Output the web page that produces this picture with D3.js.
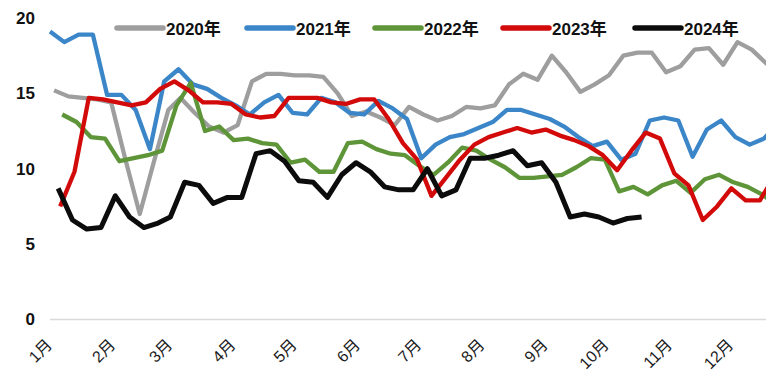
<!DOCTYPE html>
<html>
<head>
<meta charset="utf-8">
<script src="https://cdn.jsdelivr.net/npm/d3@7/dist/d3.min.js"></script>
<style>
  html, body { margin: 0; padding: 0; background: #fff; }
  svg { display: block; }
</style>
</head>
<body>
<svg id="chart" width="766" height="373"></svg>
<script>
// Weekly readings (Friday observations) for each year
const monthLabels = ["1月","2月","3月","4月","5月","6月","7月","8月","9月","10月","11月","12月"];
const yTicks = [0, 5, 10, 15, 20];
const seriesNames = ["2020年", "2021年", "2022年", "2023年", "2024年"];
const seriesStarts = ["2020-01-03", "2021-01-01", "2022-01-07", "2023-01-06", "2024-01-05"];

const values2020 = [15.2,14.8,14.7,14.6,14.4,10.6,7.0,10.5,13.9,14.7,13.7,12.8,12.4,12.9,15.8,16.3,16.3,16.2,16.2,16.1,15.0,13.5,13.8,13.4,12.9,14.1,13.6,13.2,13.5,14.1,14.0,14.2,15.6,16.3,15.9,17.5,16.4,15.1,15.6,16.2,17.5,17.7,17.7,16.4,16.8,17.9,18.0,16.9,18.4,17.9,17.0,16.5];
const values2021 = [19.1,18.4,18.9,18.9,14.9,14.9,13.9,11.3,15.8,16.6,15.6,15.3,14.7,14.2,13.6,14.4,14.9,13.7,13.6,14.7,14.4,13.7,13.6,14.5,14.0,13.3,10.7,11.6,12.1,12.3,12.7,13.1,13.9,13.9,13.6,13.3,12.8,12.1,11.5,11.8,10.6,11.0,13.2,13.4,13.2,10.8,12.6,13.2,12.1,11.6,12.0,13.0];
const values2022 = [13.6,13.1,12.1,12.0,10.5,10.7,10.9,11.2,14.2,15.7,12.5,12.8,11.9,12.0,11.7,11.6,10.4,10.6,9.8,9.8,11.7,11.8,11.3,11.0,10.9,10.2,9.6,10.4,11.4,11.2,10.6,10.1,9.4,9.4,9.5,9.6,10.1,10.7,10.6,8.5,8.8,8.3,8.9,9.2,8.4,9.3,9.6,9.1,8.8,8.3,7.6];
const values2023 = [7.5,9.8,14.7,14.6,14.4,14.2,14.4,15.3,15.8,15.2,14.4,14.4,14.3,13.6,13.4,13.5,14.7,14.7,14.7,14.4,14.3,14.6,14.6,13.3,11.7,10.6,8.2,9.4,10.6,11.6,12.1,12.4,12.7,12.4,12.6,12.2,11.9,11.5,10.9,9.9,11.2,12.4,12.0,9.7,8.9,6.6,7.5,8.7,7.9,7.9,9.5];
const values2024 = [8.7,6.6,6.0,6.1,8.2,6.8,6.1,6.4,6.8,9.1,8.9,7.7,8.1,8.1,11.0,11.2,10.5,9.2,9.1,8.1,9.6,10.4,9.8,8.8,8.6,8.6,10.0,8.2,8.6,10.7,10.7,10.9,11.2,10.2,10.4,9.1,6.8,7.0,6.8,6.4,6.7,6.8];

const seriesValues = [values2020, values2021, values2022, values2023, values2024];
const seriesColors = ["#9e9e9e", "#3b86c8", "#5e9538", "#d20a0a", "#0c0c0c"];
const seriesWidths = [4.3, 4.3, 4.3, 4.3, 5];

const W = 766, H = 373;
const svg = d3.select("#chart");
svg.append("rect").attr("width", W).attr("height", H).attr("fill", "#fff");

// Every year is laid onto one calendar year so that the curves overlap by date
const refYear = 2023;
const toRef = d => new Date(refYear, d.getMonth(), d.getDate());
const x = d3.scaleTime()
  .domain([new Date(refYear, 0, 1), new Date(refYear + 1, 0, 1)])
  .range([50, 50 + 365 * 2.04]);
const y = d3.scaleLinear().domain([0, 20]).range([319.5, 18]);

const parse = d3.timeParse("%Y-%m-%d");
const series = seriesNames.map((name, i) => {
  const start = parse(seriesStarts[i]);
  return {
    name,
    color: seriesColors[i],
    width: seriesWidths[i],
    points: seriesValues[i].map((v, k) => ({ date: toRef(d3.timeDay.offset(start, 7 * k)), value: v }))
  };
});

const font = "'Liberation Sans', Arial, 'Noto Sans CJK SC', sans-serif";

// zero baseline
svg.append("line")
  .attr("x1", 50).attr("x2", W)
  .attr("y1", y(0)).attr("y2", y(0))
  .attr("stroke", "#d9d9d9").attr("stroke-width", 1.5);

// y tick labels
const yAxis = d3.axisLeft(y).tickValues(yTicks).tickSize(0).tickPadding(0);
const gy = svg.append("g").attr("transform", "translate(35,0)").call(yAxis);
gy.select(".domain").remove();
gy.selectAll("text")
  .attr("font-family", font).attr("font-size", 17).attr("font-weight", "bold")
  .attr("fill", "#111");

// month labels, rotated
const monthDates = monthLabels.map((m, i) => new Date(refYear, i, 1));
svg.append("g").selectAll("text")
  .data(monthDates)
  .join("text")
  .attr("transform", d => `translate(${x(d) + 3},346) rotate(-45)`)
  .attr("text-anchor", "end")
  .attr("font-family", font).attr("font-size", 16)
  .attr("fill", "#1a1a1a")
  .text((d, i) => monthLabels[i]);

// series lines
const line = d3.line().x(d => x(d.date)).y(d => y(d.value));
svg.append("g").selectAll("path")
  .data(series)
  .join("path")
  .attr("d", d => line(d.points))
  .attr("fill", "none")
  .attr("stroke", d => d.color)
  .attr("stroke-width", d => d.width)
  .attr("stroke-linejoin", "round")
  .attr("stroke-linecap", "butt");

// legend
const legendX = [117, 247, 375, 503, 635];
const lg = svg.append("g");
series.forEach((s, i) => {
  const g = lg.append("g").attr("transform", `translate(${legendX[i]},28)`);
  g.append("line").attr("x1", 0).attr("x2", 46).attr("y1", 0).attr("y2", 0)
    .attr("stroke", s.color).attr("stroke-width", 5.5).attr("stroke-linecap", "round");
  g.append("text").attr("x", 49).attr("y", 6.5)
    .attr("font-family", font).attr("font-size", 17).attr("font-weight", "bold")
    .attr("fill", "#111").text(s.name);
});
</script>
</body>
</html>
